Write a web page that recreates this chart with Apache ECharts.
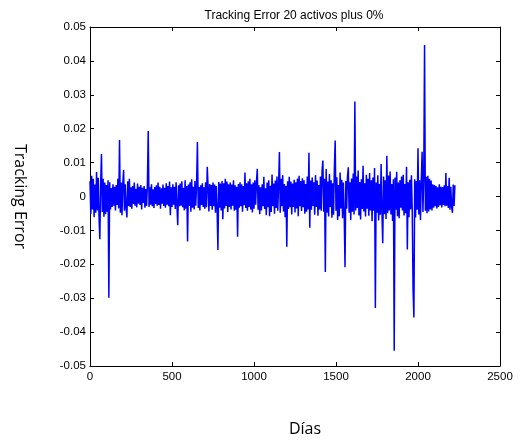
<!DOCTYPE html>
<html>
<head>
<meta charset="utf-8">
<script src="https://cdn.jsdelivr.net/npm/echarts@6/dist/echarts.min.js"></script>
<style>
  html, body { margin: 0; padding: 0; background: #fff; }
  #chart { width: 521px; height: 444px; }
</style>
</head>
<body>
<div id="chart"></div>
<script>
// Daily tracking error, one sample every 5 days starting at day 0
const dayStep = 5;
const trackingError = [
  0.0045,-0.0052,0.0061,-0.0038,0.0052,-0.0061,0.0035,-0.0048,0.0072,-0.0041,
  0.0055,-0.0058,-0.0126,0.0038,0.0125,-0.0046,0.0052,-0.0060,0.0041,-0.0052,
  0.0034,-0.0045,0.0048,-0.0299,0.0042,-0.0038,0.0025,-0.0031,0.0036,-0.0027,
  0.0029,-0.0041,0.0034,-0.0025,0.0052,-0.0035,0.0167,-0.0048,0.0041,-0.0055,
  0.0038,0.0078,-0.0042,0.0036,-0.0034,-0.0062,0.0045,-0.0028,0.0052,-0.0031,
  0.0027,-0.0036,0.0031,-0.0022,0.0041,-0.0027,0.0023,-0.0032,0.0038,-0.0021,
  0.0029,-0.0025,0.0034,-0.0038,0.0026,-0.0019,0.0031,-0.0033,0.0022,-0.0028,
  0.0035,0.0193,-0.0031,0.0027,-0.0024,0.0036,-0.0029,0.0021,-0.0034,0.0028,
  -0.0022,0.0033,-0.0027,0.0041,-0.0025,0.0029,-0.0036,0.0024,-0.0021,0.0035,
  -0.0028,0.0026,-0.0033,0.0039,-0.0024,0.0031,-0.0029,0.0044,-0.0055,0.0027,
  -0.0031,0.0036,-0.0024,0.0029,-0.0037,0.0042,-0.0026,-0.0085,0.0033,-0.0029,
  0.0038,-0.0027,0.0045,-0.0032,0.0026,-0.0041,0.0048,-0.0036,0.0031,-0.0133,
  0.0035,-0.0028,0.0042,-0.0045,0.0051,-0.0033,0.0029,-0.0038,0.0046,-0.0027,
  0.0036,0.0161,-0.0034,0.0028,-0.0041,0.0033,-0.0025,0.0039,-0.0031,0.0027,
  -0.0036,0.0042,-0.0032,0.0088,0.0029,-0.0044,0.0037,-0.0028,0.0034,-0.0039,
  0.0041,-0.0029,0.0035,-0.0048,0.0031,-0.0036,-0.0158,0.0043,-0.0033,0.0038,
  -0.0041,0.0046,-0.0067,0.0039,-0.0035,0.0052,-0.0028,0.0044,-0.0046,0.0036,
  -0.0031,0.0041,-0.0038,0.0035,-0.0027,0.0048,-0.0042,0.0033,-0.0039,0.0029,
  -0.0119,0.0037,-0.0033,0.0042,-0.0029,0.0036,-0.0045,0.0031,-0.0026,0.0071,
  -0.0034,0.0039,-0.0042,0.0045,-0.0031,0.0052,-0.0038,0.0036,-0.0047,0.0041,
  -0.0036,0.0048,-0.0024,0.0041,0.0082,-0.0039,0.0033,-0.0052,0.0027,-0.0041,
  0.0036,-0.0029,0.0058,-0.0037,0.0024,-0.0055,0.0041,-0.0032,0.0048,-0.0058,
  0.0032,-0.0046,0.0065,-0.0029,0.0038,-0.0051,0.0047,-0.0034,0.0059,-0.0042,
  0.0036,0.0131,-0.0048,0.0052,-0.0029,0.0063,-0.0044,0.0037,-0.0061,0.0032,
  -0.0148,0.0045,-0.0037,0.0058,-0.0032,0.0044,-0.0053,0.0038,-0.0031,0.0049,
  -0.0047,0.0042,-0.0035,0.0053,-0.0058,0.0061,-0.0029,0.0046,-0.0043,0.0054,
  -0.0032,0.0048,-0.0051,0.0037,-0.0045,0.0059,-0.0038,0.0129,-0.0092,0.0047,
  -0.0039,0.0056,-0.0028,0.0042,-0.0054,0.0063,-0.0031,0.0047,-0.0057,0.0034,
  -0.0038,0.0059,-0.0042,0.0075,0.0106,-0.0045,0.0052,-0.0223,0.0081,-0.0048,
  0.0044,-0.0059,0.0066,-0.0031,0.0048,-0.0063,0.0039,-0.0054,0.0082,0.0165,
  -0.0042,0.0057,-0.0069,0.0034,-0.0058,0.0071,-0.0035,0.0049,-0.0064,0.0041,
  -0.0052,-0.0209,0.0046,-0.0036,0.0058,0.0086,-0.0048,0.0042,-0.0069,0.0053,
  -0.0045,0.0068,-0.0053,0.0280,-0.0041,0.0059,-0.0034,0.0077,-0.0056,0.0043,
  -0.0068,0.0051,-0.0037,0.0091,-0.0044,0.0039,-0.0059,0.0064,-0.0036,0.0052,
  -0.0057,0.0069,-0.0041,0.0048,-0.0073,0.0056,-0.0042,0.0084,-0.0329,0.0041,
  -0.0048,0.0063,-0.0071,0.0037,-0.0054,0.0096,-0.0045,-0.0138,0.0059,-0.0052,
  0.0048,-0.0066,0.0120,-0.0049,0.0062,-0.0041,0.0074,-0.0053,0.0037,-0.0072,
  0.0051,-0.0455,0.0056,-0.0039,0.0073,-0.0058,0.0041,-0.0064,0.0048,-0.0033,
  0.0059,-0.0041,0.0064,-0.0056,0.0037,-0.0049,0.0088,-0.0156,0.0042,-0.0061,
  0.0049,-0.0038,0.0063,-0.0044,-0.0276,-0.0357,0.0051,-0.0062,0.0046,-0.0039,
  0.0142,-0.0053,0.0048,-0.0069,0.0044,0.0132,-0.0046,0.0052,0.0447,-0.0042,
  0.0058,-0.0049,0.0061,-0.0044,0.0052,-0.0038,0.0047,-0.0041,0.0036,-0.0033,
  0.0034,-0.0029,0.0031,-0.0035,0.0027,-0.0031,0.0036,-0.0026,0.0029,-0.0032,
  0.0028,-0.0025,0.0033,-0.0029,0.0069,-0.0027,0.0031,-0.0034,0.0055,-0.0039,
  0.0029,-0.0031,-0.0048,0.0035,-0.0028,0.0033
];

const xTicks = [0, 500, 1000, 1500, 2000, 2500];
const yTicks = [-0.05, -0.04, -0.03, -0.02, -0.01, 0, 0.01, 0.02, 0.03, 0.04, 0.05];

const titleText = 'Tracking Error 20 activos plus 0%';
const xName = 'Días';
const yName = 'Tracking Error';

const tickFont = { fontFamily: 'Liberation Sans, Arial, sans-serif', fontSize: 11.5, color: '#000' };
const nameFont = { fontFamily: 'Open Sans, sans-serif', fontSize: 16, color: '#000' };

const seriesData = trackingError.map((v, i) => [i * dayStep, v]);

const chart = echarts.init(document.getElementById('chart'), null, { renderer: 'canvas' });

const frameAxisX = {
  type: 'value', min: xTicks[0], max: xTicks[xTicks.length - 1], interval: 500,
  axisLine: { show: true, onZero: false, lineStyle: { color: '#000', width: 1 } },
  axisTick: { show: true, inside: true, length: 4, lineStyle: { color: '#000' } },
  splitLine: { show: false }
};
const frameAxisY = {
  type: 'value', min: yTicks[0], max: yTicks[yTicks.length - 1], interval: 0.01,
  axisLine: { show: true, onZero: false, lineStyle: { color: '#000', width: 1 } },
  axisTick: { show: true, inside: true, length: 4, lineStyle: { color: '#000' } },
  splitLine: { show: false }
};

chart.setOption({
  animation: false,
  backgroundColor: '#fff',
  title: {
    text: titleText,
    left: 289, top: 5, textAlign: 'center',
    textStyle: { fontFamily: 'Liberation Sans, Arial, sans-serif', fontSize: 12, fontWeight: 'normal', color: '#000' }
  },
  grid: { left: 90, right: 21, top: 27, bottom: 78, containLabel: false },
  xAxis: [
    Object.assign({}, frameAxisX, {
      position: 'bottom',
      axisLabel: Object.assign({ margin: 5, formatter: v => String(v) }, tickFont),
      name: xName, nameLocation: 'middle', nameGap: 55,
      nameTextStyle: Object.assign({ padding: [0, 0, 0, 20] }, nameFont)
    }),
    Object.assign({}, frameAxisX, { position: 'top', axisLabel: { show: false } })
  ],
  yAxis: [
    Object.assign({}, frameAxisY, {
      position: 'left',
      axisLabel: Object.assign({ margin: 4, formatter: v => String(Math.round(v * 100) / 100) }, tickFont),
      name: yName, nameLocation: 'middle', nameGap: 62, nameRotate: -90,
      nameTextStyle: nameFont
    }),
    Object.assign({}, frameAxisY, { position: 'right', axisLabel: { show: false } })
  ],
  series: [{
    type: 'line',
    data: seriesData,
    showSymbol: false,
    symbol: 'none',
    lineStyle: { color: '#0000ff', width: 1.5 },
    itemStyle: { color: '#0000ff' },
    xAxisIndex: 0, yAxisIndex: 0,
    z: 1
  }]
});
</script>
</body>
</html>
